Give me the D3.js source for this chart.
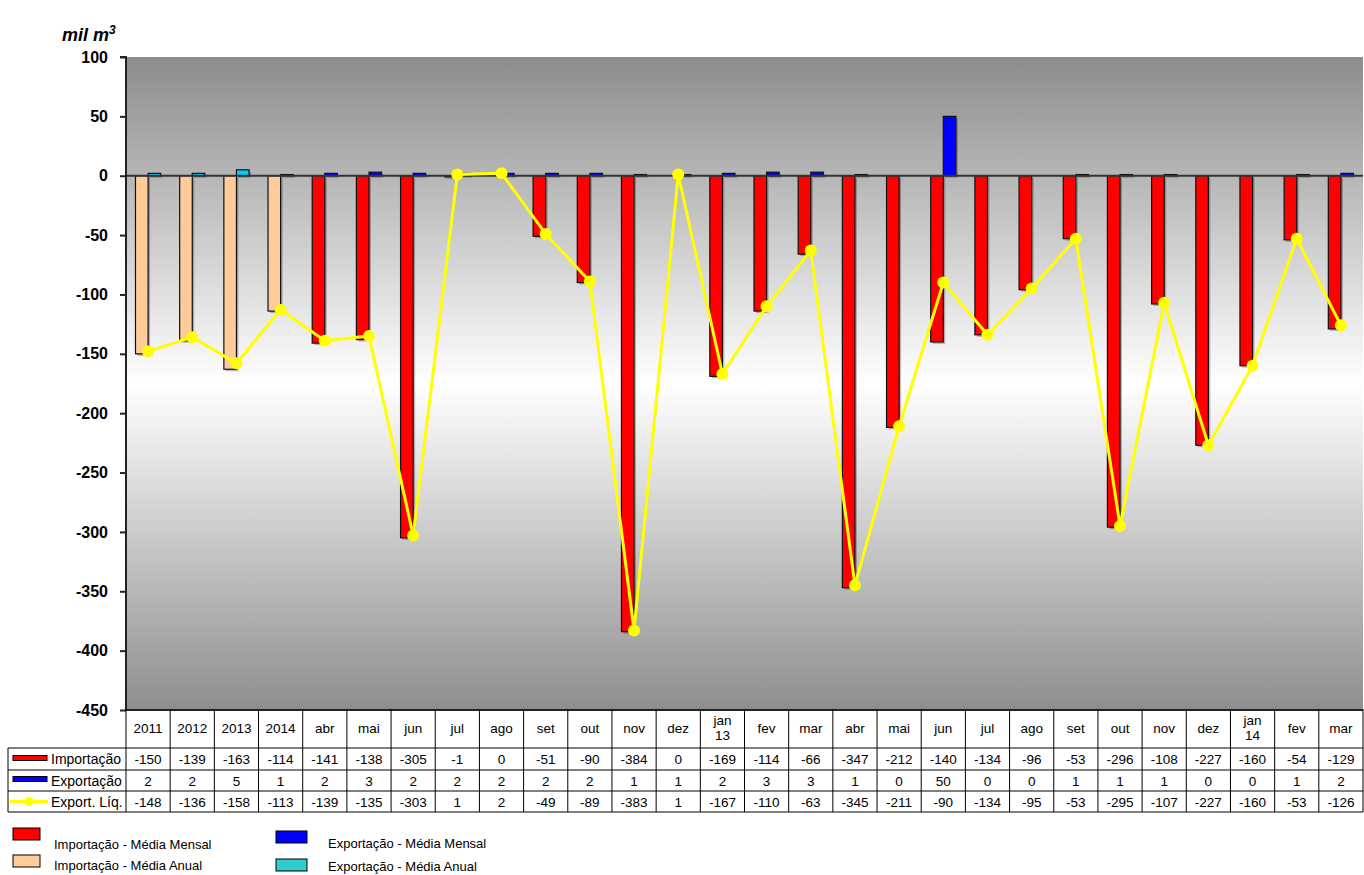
<!DOCTYPE html>
<html><head><meta charset="utf-8">
<script src="https://cdn.jsdelivr.net/npm/d3@7"></script>
<style>body{margin:0;background:#fff;}svg{display:block;font-family:Arial,"Liberation Sans",sans-serif;}</style>
</head><body><svg id="c" width="1364" height="875"></svg>
<script>
const categories = ["2011","2012","2013","2014","abr","mai","jun","jul","ago","set","out","nov","dez","jan\n13","fev","mar","abr","mai","jun","jul","ago","set","out","nov","dez","jan\n14","fev","mar"];
const importacao = [-150,-139,-163,-114,-141,-138,-305,-1,0,-51,-90,-384,0,-169,-114,-66,-347,-212,-140,-134,-96,-53,-296,-108,-227,-160,-54,-129];
const exportacao = [2,2,5,1,2,3,2,2,2,2,2,1,1,2,3,3,1,0,50,0,0,1,1,1,0,0,1,2];
const exportLiq = [-148,-136,-158,-113,-139,-135,-303,1,2,-49,-89,-383,1,-167,-110,-63,-345,-211,-90,-134,-95,-53,-295,-107,-227,-160,-53,-126];
const annualCount = 4;
const yTicks = [100,50,0,-50,-100,-150,-200,-250,-300,-350,-400,-450];

const svg = d3.select("#c");
const L = 126, R = 1363, T = 57, B = 710;
const x = d3.scaleBand().domain(d3.range(categories.length)).range([L, R]).padding(0);
const y = d3.scaleLinear().domain([-450, 100]).range([B, T]);
const bw = x.bandwidth();
const barW = bw * 0.285;

// background gradient
const defs = svg.append("defs");
const g = defs.append("linearGradient").attr("id","bg").attr("x1",0).attr("y1",0).attr("x2",0).attr("y2",1);
g.append("stop").attr("offset","0%").attr("stop-color","#8c8c8c");
g.append("stop").attr("offset","50%").attr("stop-color","#ffffff");
g.append("stop").attr("offset","100%").attr("stop-color","#8e8e8e");
svg.append("rect").attr("x",L).attr("y",T).attr("width",R-L).attr("height",B-T).attr("fill","url(#bg)");

// bars
const impColor = i => i < annualCount ? "#ffcc99" : "#ff0000";
const expColor = i => i < annualCount ? "#00ccff" : "#0000ff";
const bars = svg.append("g");
function drawBar(i, v, xoff, color){
  const cx = x(i) + bw/2;
  const y0 = y(0), y1 = y(v);
  const top = Math.min(y0,y1), h = Math.abs(y1-y0);
  bars.append("rect").attr("x",cx+xoff+2).attr("y",top+2).attr("width",barW).attr("height",h)
    .attr("fill","#000").attr("opacity",0.25);
  bars.append("rect").attr("x",cx+xoff).attr("y",top).attr("width",barW).attr("height",h)
    .attr("fill",color).attr("stroke","#111").attr("stroke-width",1.2);
}
importacao.forEach((v,i)=>drawBar(i, v, -barW, impColor(i)));
exportacao.forEach((v,i)=>drawBar(i, v, 0, expColor(i)));

// zero line
svg.append("line").attr("x1",L).attr("x2",R).attr("y1",y(0)).attr("y2",y(0)).attr("stroke","#333").attr("stroke-width",2);

// line series
const line = d3.line().x((d,i)=>x(i)+bw/2).y(d=>y(d));
svg.append("path").datum(exportLiq).attr("d",line).attr("fill","none").attr("stroke","#ffff00").attr("stroke-width",3);
svg.append("g").selectAll("circle").data(exportLiq).join("circle")
  .attr("cx",(d,i)=>x(i)+bw/2).attr("cy",d=>y(d)).attr("r",6).attr("fill","#ffff00");

// y axis
const yAxis = d3.axisLeft(y).tickValues(yTicks).tickSize(6).tickPadding(12).tickFormat(d=>String(d));
const ax = svg.append("g").attr("transform",`translate(${L},0)`).call(yAxis);
ax.select(".domain").attr("stroke","#222").attr("stroke-width",2).attr("d",`M-6,${T}H0V${B}`);
ax.selectAll(".tick line").attr("stroke","#222").attr("stroke-width",2);
ax.selectAll(".tick text").attr("font-size",16).attr("font-weight","bold").attr("fill","#000").attr("font-family","Arial,'Liberation Sans',sans-serif");

// unit label
const ut = svg.append("text").attr("x",62).attr("y",41).attr("font-size",18).attr("font-weight","bold").attr("font-style","italic");
ut.append("tspan").text("mil m");
ut.append("tspan").text("3").attr("font-size",12).attr("dy",-7);

// data table
const rowY = [709, 748, 770, 791, 812];
const tbl = svg.append("g").attr("stroke","#000").attr("stroke-width",1);
tbl.append("line").attr("x1",L).attr("x2",R).attr("y1",B).attr("y2",B).attr("stroke-width",2).attr("stroke","#222");
[748,770,791,812].forEach(yy=>tbl.append("line").attr("x1",8).attr("x2",R).attr("y1",yy).attr("y2",yy));
tbl.append("line").attr("x1",8).attr("x2",8).attr("y1",748).attr("y2",812);
for(let i=0;i<=categories.length;i++){
  const xx = i<categories.length ? x(i) : R;
  tbl.append("line").attr("x1",xx).attr("x2",xx).attr("y1",709).attr("y2",812);
}
const txt = svg.append("g").attr("font-size",13.5).attr("text-anchor","middle").attr("fill","#000");
categories.forEach((c,i)=>{
  const cx = x(i)+bw/2;
  const parts = c.split("\n");
  if(parts.length===1){
    txt.append("text").attr("x",cx).attr("y",733).text(c);
  } else {
    txt.append("text").attr("x",cx).attr("y",725).text(parts[0]);
    txt.append("text").attr("x",cx).attr("y",740).text(parts[1]);
  }
});
const rows = [importacao, exportacao, exportLiq];
rows.forEach((arr,r)=>{
  const cy = (rowY[r+1]+rowY[r+2])/2 + 5;
  arr.forEach((v,i)=>txt.append("text").attr("x",x(i)+bw/2).attr("y",cy).text(v));
});
// row labels with keys
const rowLabels = ["Importação","Exportação","Export. Líq."];
rowLabels.forEach((lab,r)=>{
  const cy = (rowY[r+1]+rowY[r+2])/2;
  svg.append("text").attr("x",51).attr("y",cy+5).attr("font-size",14).text(lab);
});
svg.append("rect").attr("x",13).attr("y",755.5).attr("width",34).attr("height",5).attr("fill","#ff0000").attr("stroke","#000");
svg.append("rect").attr("x",13).attr("y",776.5).attr("width",34).attr("height",5).attr("fill","#0000ff").attr("stroke","#000");
svg.append("line").attr("x1",10).attr("x2",48).attr("y1",801.5).attr("y2",801.5).attr("stroke","#ffff00").attr("stroke-width",3);
svg.append("circle").attr("cx",29).attr("cy",801.5).attr("r",4.5).attr("fill","#ffff00");

// bottom legend
const legend = [
  {x:13, y:828, c:"#ff0000", t:"Importação - Média Mensal", tx:54, ty:849},
  {x:13, y:855, c:"#ffcc99", t:"Importação - Média Anual", tx:54, ty:870},
  {x:276, y:831, c:"#0000ff", t:"Exportação - Média Mensal", tx:328, ty:848},
  {x:276, y:859, c:"#33cccc", t:"Exportação - Média Anual", tx:328, ty:871}
];
legend.forEach(d=>{
  svg.append("rect").attr("x",d.x).attr("y",d.y).attr("width",d.x===13?27:31).attr("height",12).attr("fill",d.c).attr("stroke","#000");
  svg.append("text").attr("x",d.tx).attr("y",d.ty).attr("font-size",13).text(d.t);
});
</script></body></html>
